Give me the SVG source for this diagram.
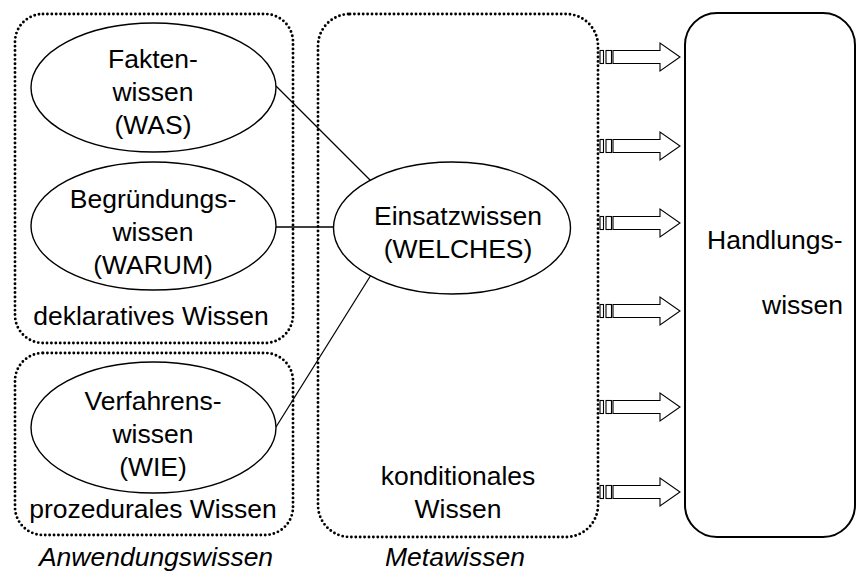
<svg xmlns="http://www.w3.org/2000/svg" width="857" height="577" viewBox="0 0 857 577">
<defs>
<style>
.dot{fill:none;stroke:#000;stroke-width:2.9;stroke-dasharray:0 4.4;stroke-linecap:round}
.ell{fill:#fff;stroke:#000;stroke-width:1.4}
.t{font-family:"Liberation Sans",Arial,sans-serif;font-size:26.5px;fill:#000;text-anchor:middle}
.it{font-style:italic}
.ln{stroke:#000;stroke-width:1.3;fill:none}
.arr{fill:#fff;stroke:#000;stroke-width:1.1;stroke-linejoin:miter}
</style>
<g id="sarrow">
<rect x="600" y="-6.5" width="3.5" height="13" class="arr"/>
<rect x="606" y="-6.5" width="5.5" height="13" class="arr"/>
<path d="M613,-6.5 H660 V-14 L680,0 L660,14 V6.5 H613 Z" class="arr"/>
</g>
</defs>
<rect width="857" height="577" fill="#fff"/>

<g id="box-deklarativ">
<rect x="15" y="14" width="278" height="329" rx="28" class="dot"/>
<text x="151" y="325" class="t">deklaratives Wissen</text>
</g>
<g id="box-prozedural">
<rect x="15" y="353" width="278" height="182" rx="28" class="dot"/>
<text x="153" y="518" class="t">prozedurales Wissen</text>
</g>
<g id="box-konditional">
<rect x="318" y="14" width="280" height="523" rx="32" class="dot"/>
<text x="458" y="485" class="t">konditionales</text>
<text x="458" y="518" class="t">Wissen</text>
</g>

<g id="connectors">
<line x1="276" y1="86" x2="371" y2="181" class="ln"/>
<line x1="276" y1="227" x2="334" y2="227" class="ln"/>
<line x1="276" y1="427" x2="371" y2="275" class="ln"/>
<use href="#sarrow" transform="translate(0,57)"/>
<use href="#sarrow" transform="translate(0,146)"/>
<use href="#sarrow" transform="translate(0,223)"/>
<use href="#sarrow" transform="translate(0,311)"/>
<use href="#sarrow" transform="translate(0,407)"/>
<use href="#sarrow" transform="translate(0,492)"/>
</g>

<g id="fakten">
<ellipse cx="153.5" cy="87.5" rx="122.5" ry="64.5" class="ell"/>
<text x="153" y="68" class="t">Fakten-</text>
<text x="153" y="101" class="t">wissen</text>
<text x="153" y="134" class="t">(WAS)</text>
</g>
<g id="begruendung">
<ellipse cx="153.5" cy="226" rx="122.5" ry="64" class="ell"/>
<text x="153" y="208" class="t">Begründungs-</text>
<text x="153" y="241" class="t">wissen</text>
<text x="153" y="274" class="t">(WARUM)</text>
</g>
<g id="verfahren">
<ellipse cx="153.5" cy="427.5" rx="122.5" ry="65.5" class="ell"/>
<text x="153" y="410" class="t">Verfahrens-</text>
<text x="153" y="443" class="t">wissen</text>
<text x="153" y="476" class="t">(WIE)</text>
</g>
<g id="einsatz">
<ellipse cx="452" cy="228" rx="118.5" ry="66" class="ell"/>
<text x="458" y="225" class="t">Einsatzwissen</text>
<text x="458" y="258" class="t">(WELCHES)</text>
</g>
<g id="handlung">
<rect x="685" y="13" width="170" height="524" rx="32" fill="#fff" stroke="#000" stroke-width="2"/>
<text x="707" y="249" class="t" style="text-anchor:start">Handlungs-</text>
<text x="762" y="314" class="t" style="text-anchor:start">wissen</text>
</g>
<g id="labels">
<text x="156" y="566" class="t it">Anwendungswissen</text>
<text x="455" y="566" class="t it">Metawissen</text>
</g>
</svg>
